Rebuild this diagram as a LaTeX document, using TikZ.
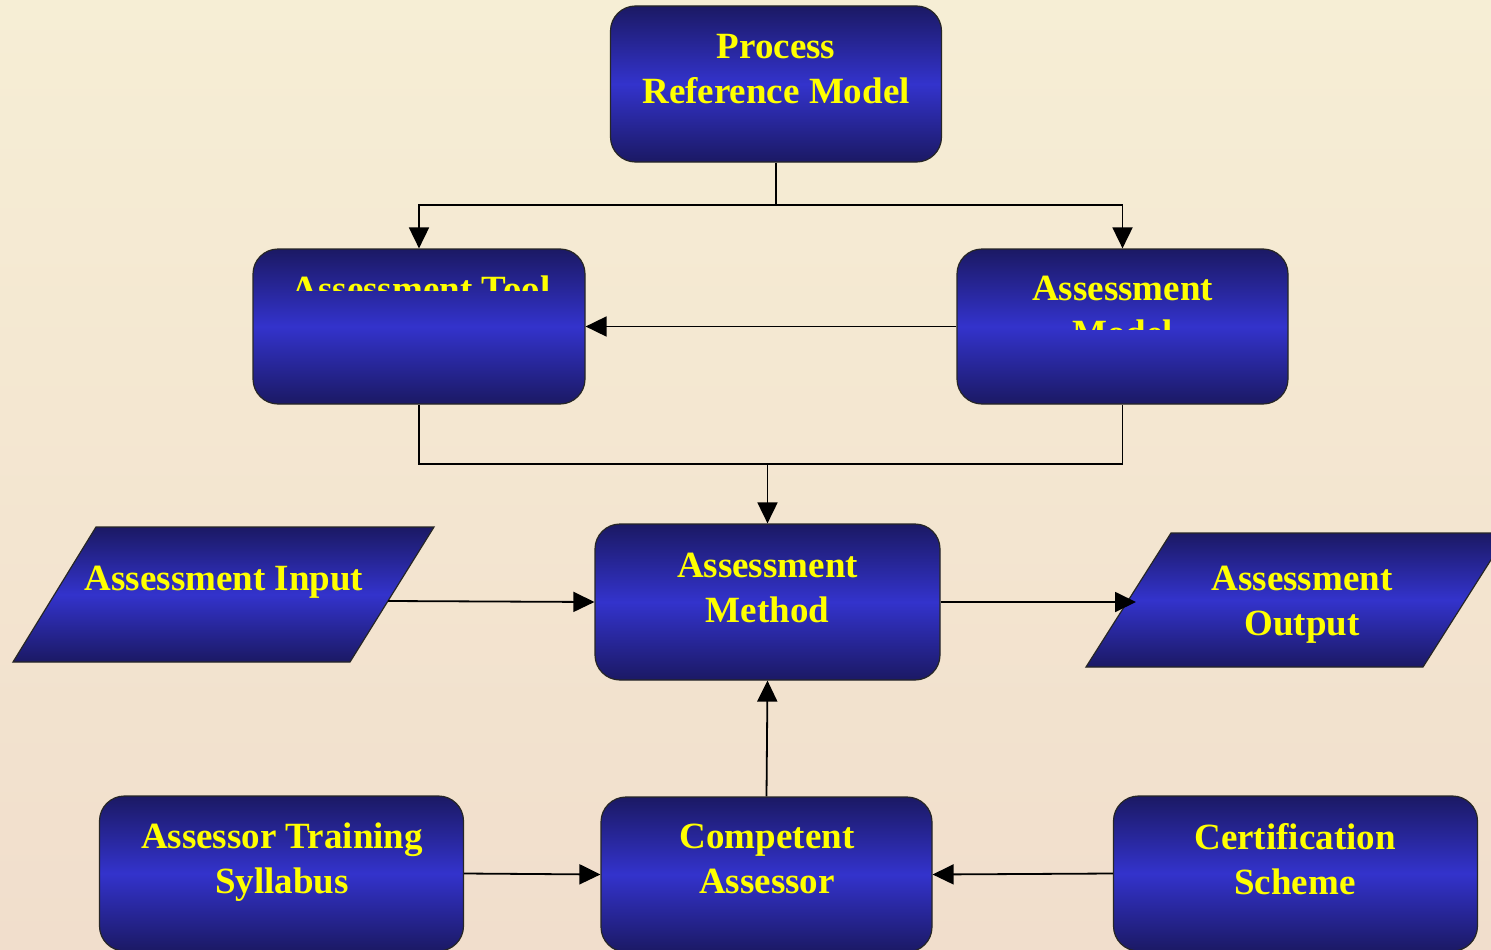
\documentclass[tikz,border=0pt]{standalone}
\usepackage{fontspec}
\setmainfont{Liberation Serif}
\usetikzlibrary{arrows.meta,calc}
\definecolor{navy}{RGB}{27,25,100}
\definecolor{bright}{RGB}{51,51,204}
\definecolor{yel}{RGB}{255,255,0}
\definecolor{bgtop}{RGB}{246,238,213}
\definecolor{bgbot}{RGB}{241,222,204}
\tikzset{
  box/.style={rounded corners=25pt, draw=black!85, line width=1.2pt,
    top color=navy, bottom color=navy, middle color=bright, inner sep=0pt},
  para/.style={draw=black!85, line width=1.2pt,
    top color=navy, bottom color=navy, middle color=bright},
  txt/.style={text=yel, font=\bfseries\fontsize{37}{45}\selectfont, align=center, inner sep=0pt, anchor=north},
  conn/.style={line width=1.8pt, black},
  arr/.style={conn, -{Triangle[length=21pt,width=20pt]}}
}
\begin{document}
\begin{tikzpicture}[x=1pt,y=-1pt]
\clip (0,0) rectangle (1491,950);
\shade[top color=bgtop, bottom color=bgbot] (0,0) rectangle (1491,950);
% boxes
\node[box, minimum width=331pt, minimum height=156pt] (prm) at (776,84) {};
\node[box, minimum width=332pt, minimum height=155pt] (tool) at (419,326.5) {};
\node[box, minimum width=331pt, minimum height=155pt] (model) at (1122.5,326.5) {};
\node[box, minimum width=345pt, minimum height=156pt] (method) at (767.5,602) {};
\node[box, minimum width=364pt, minimum height=155pt] (syllabus) at (281.5,873.5) {};
\node[box, minimum width=331pt, minimum height=155pt] (assessor) at (766.5,874.5) {};
\node[box, minimum width=364pt, minimum height=155pt] (cert) at (1295.5,873.5) {};
% parallelograms
\shade[para] (96,527) -- (434,527) -- (350,662) -- (13,662) -- cycle;
\coordinate (inR) at (388,601);
\shade[para] (1171,533) -- (1508,533) -- (1423,667) -- (1086,667) -- cycle;
\coordinate (outL) at (1136,602);
% texts
\node[txt] (prmtext) at (776,34) {Process\\Reference Model};
\begin{scope}
\clip (253,249) rectangle (585,290);
\node[txt] (tooltext) at (421,276) {Assessment Tool};
\end{scope}
\begin{scope}
\clip (957,249) rectangle (1288,329);
\node[txt] (modeltext) at (1122.5,276) {Assessment\\Model};
\end{scope}
\node[txt] (methodtext) at (767.5,553) {Assessment\\Method};
\node[txt] (intext) at (224,566) {Assessment Input};
\node[txt] (outtext) at (1302,566) {Assessment\\Output};
\node[txt] (syltext) at (282,823) {Assessor Training\\Syllabus};
\node[txt] (asstext) at (767,824) {Competent\\Assessor};
\node[txt] (certtext) at (1295,823) {Certification\\Scheme};
% connectors
\coordinate (j1) at (776,205);
\coordinate (j2) at (767.5,464);
\draw[arr] (prm.south) -- (j1) -| (tool.north);
\draw[arr] (j1) -| (model.north);
\draw[arr] (model.west) -- (tool.east);
\draw[conn] (tool.south) |- (j2) -| (model.south);
\draw[arr] (j2) -- (method.north);
\draw[arr] (inR) -- (method.west);
\draw[arr] (method.east) -- (outL);
\draw[arr] (assessor.north) -- (method.south);
\draw[arr] (syllabus.east) -- (assessor.west);
\draw[arr] (cert.west) -- (assessor.east);
\end{tikzpicture}
\end{document}
